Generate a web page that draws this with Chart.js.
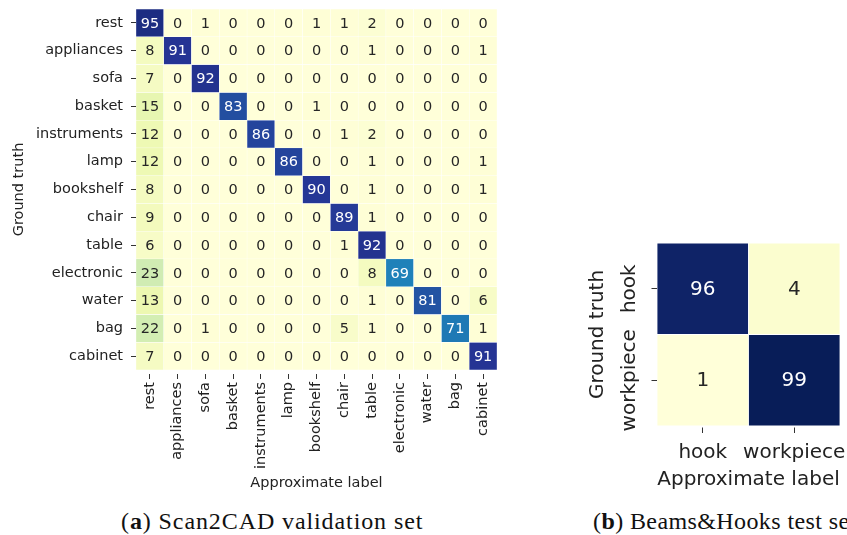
<!DOCTYPE html>
<html>
<head>
<meta charset="utf-8">
<script src="https://cdn.jsdelivr.net/npm/chart.js@4/dist/chart.umd.min.js"></script>
<style>
  html, body { margin: 0; padding: 0; background: #fff; width: 847px; height: 535px; overflow: hidden; }
  #scan { position: absolute; left: 0; top: 0; }
  #beams { position: absolute; left: 560px; top: 0; }
  .cap { position: absolute; top: 509px; font-family: "Liberation Serif", serif; font-size: 24px; line-height: 24px;
         letter-spacing: 0.9px; white-space: nowrap; color: #111; }
</style>
</head>
<body>
<canvas id="scan" width="520" height="500"></canvas>
<canvas id="beams" width="287" height="500"></canvas>
<div class="cap" style="left:121px">(<b>a</b>) Scan2CAD validation set</div>
<div class="cap" style="left:593px; letter-spacing:0.4px">(<b>b</b>) Beams&amp;Hooks test set</div>
<script>
// ---- Scan2CAD confusion matrix (rows: ground truth, columns: approximate label), in percent
const scanLabels = ['rest', 'appliances', 'sofa', 'basket', 'instruments', 'lamp', 'bookshelf',
                    'chair', 'table', 'electronic', 'water', 'bag', 'cabinet'];
const rowRest        = [95, 0, 1, 0, 0, 0, 1, 1, 2, 0, 0, 0, 0];
const rowAppliances  = [8, 91, 0, 0, 0, 0, 0, 0, 1, 0, 0, 0, 1];
const rowSofa        = [7, 0, 92, 0, 0, 0, 0, 0, 0, 0, 0, 0, 0];
const rowBasket      = [15, 0, 0, 83, 0, 0, 1, 0, 0, 0, 0, 0, 0];
const rowInstruments = [12, 0, 0, 0, 86, 0, 0, 1, 2, 0, 0, 0, 0];
const rowLamp        = [12, 0, 0, 0, 0, 86, 0, 0, 1, 0, 0, 0, 1];
const rowBookshelf   = [8, 0, 0, 0, 0, 0, 90, 0, 1, 0, 0, 0, 1];
const rowChair       = [9, 0, 0, 0, 0, 0, 0, 89, 1, 0, 0, 0, 0];
const rowTable       = [6, 0, 0, 0, 0, 0, 0, 1, 92, 0, 0, 0, 0];
const rowElectronic  = [23, 0, 0, 0, 0, 0, 0, 0, 8, 69, 0, 0, 0];
const rowWater       = [13, 0, 0, 0, 0, 0, 0, 0, 1, 0, 81, 0, 6];
const rowBag         = [22, 0, 1, 0, 0, 0, 0, 5, 1, 0, 0, 71, 1];
const rowCabinet     = [7, 0, 0, 0, 0, 0, 0, 0, 0, 0, 0, 0, 91];
const scanRows = [rowRest, rowAppliances, rowSofa, rowBasket, rowInstruments, rowLamp, rowBookshelf,
                  rowChair, rowTable, rowElectronic, rowWater, rowBag, rowCabinet];

// ---- Beams&Hooks confusion matrix
const beamLabels = ['hook', 'workpiece'];
const rowHook      = [96, 4];
const rowWorkpiece = [1, 99];
const beamRows = [rowHook, rowWorkpiece];

// YlGnBu colour map
const ylgnbuStops = ['#ffffd9', '#edf8b1', '#c7e9b4', '#7fcdbb', '#41b6c4', '#1d91c0', '#225ea8', '#253494', '#081d58'];
function hexToRgb(h) { return [1, 3, 5].map(i => parseInt(h.slice(i, i + 2), 16)); }
function ylgnbu(t) {
  t = Math.min(1, Math.max(0, t));
  const pos = t * (ylgnbuStops.length - 1);
  const i = Math.min(Math.floor(pos), ylgnbuStops.length - 2);
  const f = pos - i;
  const a = hexToRgb(ylgnbuStops[i]), b = hexToRgb(ylgnbuStops[i + 1]);
  return a.map((c, k) => Math.round(c + (b[k] - c) * f));
}
function rgbStr(c) { return 'rgb(' + c.join(',') + ')'; }
function luminance(c) {
  const lin = c.map(v => { v /= 255; return v <= 0.03928 ? v / 12.92 : Math.pow((v + 0.055) / 1.055, 2.4); });
  return 0.2126 * lin[0] + 0.7152 * lin[1] + 0.0722 * lin[2];
}

// Writes each cell's value in the middle of its bar
const cellText = {
  id: 'cellText',
  afterDatasetsDraw(chart, args, opts) {
    const ctx = chart.ctx;
    ctx.save();
    ctx.font = opts.font;
    ctx.textAlign = 'center';
    ctx.textBaseline = 'middle';
    chart.data.datasets.forEach((ds, di) => {
      chart.getDatasetMeta(di).data.forEach((bar, j) => {
        const p = bar.getProps(['x', 'y', 'base'], true);
        ctx.fillStyle = luminance(ds.cellRgb[j]) > 0.408 ? '#262626' : '#ffffff';
        ctx.fillText(String(ds.values[j]), p.x, (p.y + p.base) / 2 + 1);
      });
    });
    ctx.restore();
  }
};

// Rotated row labels centred on their ticks
const rotatedRowLabels = {
  id: 'rotatedRowLabels',
  afterDraw(chart, args, opts) {
    if (!opts.labels) return;
    const ctx = chart.ctx;
    const ys = chart.scales.y;
    ctx.save();
    ctx.font = opts.font;
    ctx.fillStyle = opts.color;
    ctx.textAlign = 'center';
    ctx.textBaseline = 'middle';
    ys.ticks.forEach((tk, i) => {
      const y = ys.getPixelForValue(tk.value);
      ctx.save();
      ctx.translate(ys.right - opts.offset, y);
      ctx.rotate(-Math.PI / 2);
      ctx.fillText(opts.labels[i], 0, 0);
      ctx.restore();
    });
    ctx.restore();
  }
};

function heatDatasets(rows, vmin, vmax, border) {
  return rows.map((vals, i) => {
    const rgb = vals.map(v => ylgnbu((v - vmin) / (vmax - vmin)));
    return {
      data: vals.map(() => [i, i + 1]),
      values: vals,
      cellRgb: rgb,
      backgroundColor: rgb.map(rgbStr),
      borderColor: '#ffffff',
      borderWidth: border,
      borderSkipped: false,
      grouped: false,
      barPercentage: 1,
      categoryPercentage: 1
    };
  });
}

function heatOptions(cfg) {
  const font = { family: 'DejaVu Sans', size: cfg.fontSize };
  const gridCfg = { display: true, drawOnChartArea: false, drawTicks: true, tickLength: cfg.tickLen,
                    tickBorderDash: cfg.tickDash, tickColor: '#333333', tickWidth: 1, offset: false };
  return {
    responsive: false,
    animation: false,
    devicePixelRatio: 1,
    layout: { padding: cfg.padding },
    events: [],
    plugins: {
      legend: { display: false },
      tooltip: { enabled: false },
      cellText: { font: cfg.fontSize + 'px "DejaVu Sans"' },
      rotatedRowLabels: { labels: cfg.rotatedLabels, font: cfg.fontSize + 'px "DejaVu Sans"', color: '#222222', offset: cfg.rotOffset }
    },
    scales: {
      x: {
        type: 'category',
        offset: true,
        grid: gridCfg,
        border: { display: false },
        ticks: { font, color: '#222222', autoSkip: false, minRotation: cfg.xRot, maxRotation: cfg.xRot, padding: cfg.xPad },
        title: { display: true, text: 'Approximate label', font, color: '#222222', padding: { top: 2, bottom: cfg.xTitlePad } },
        afterFit(s) { s.height = cfg.xHeight; s.paddingLeft = 0; s.paddingRight = 0; }
      },
      y: {
        type: 'linear',
        min: 0,
        max: cfg.labels.length,
        reverse: true,
        grid: gridCfg,
        border: { display: false },
        afterBuildTicks(s) { s.ticks = cfg.labels.map((_, i) => ({ value: i + 0.5 })); },
        ticks: { display: !cfg.rotatedLabels, font, color: '#222222', autoSkip: false, padding: cfg.yPad,
                 callback: (v, i) => cfg.labels[i] },
        title: { display: true, text: 'Ground truth', font, color: '#222222', padding: { top: cfg.yTitlePad, bottom: 0 } },
        afterFit(s) { s.width = cfg.yWidth; s.paddingTop = 0; s.paddingBottom = 0; }
      }
    }
  };
}

new Chart(document.getElementById('scan'), {
  type: 'bar',
  data: { labels: scanLabels, datasets: heatDatasets(scanRows, 0, 104, 0.5) },
  options: heatOptions({
    labels: scanLabels, fontSize: 14.5, tickLen: 9, tickDash: [0, 4, 5, 30],
    padding: { top: 9, right: 23, left: 0, bottom: 0 },
    xRot: 90, xPad: 3, xHeight: 130, xTitlePad: 8, yWidth: 136, yTitlePad: 11, yPad: 4
  }),
  plugins: [cellText, rotatedRowLabels]
});

new Chart(document.getElementById('beams'), {
  type: 'bar',
  data: { labels: beamLabels, datasets: heatDatasets(beamRows, 1, 99, 0.75) },
  options: heatOptions({
    labels: beamLabels, rotatedLabels: beamLabels, rotOffset: 27, fontSize: 20, tickLen: 7, tickDash: [0, 1.5, 6, 30],
    padding: { top: 243, right: 7, left: 0, bottom: 0 },
    xRot: 0, xPad: 8, xHeight: 74, xTitlePad: 8, yWidth: 97, yTitlePad: 26, yPad: 3
  }),
  plugins: [cellText, rotatedRowLabels]
});
</script>
</body>
</html>
